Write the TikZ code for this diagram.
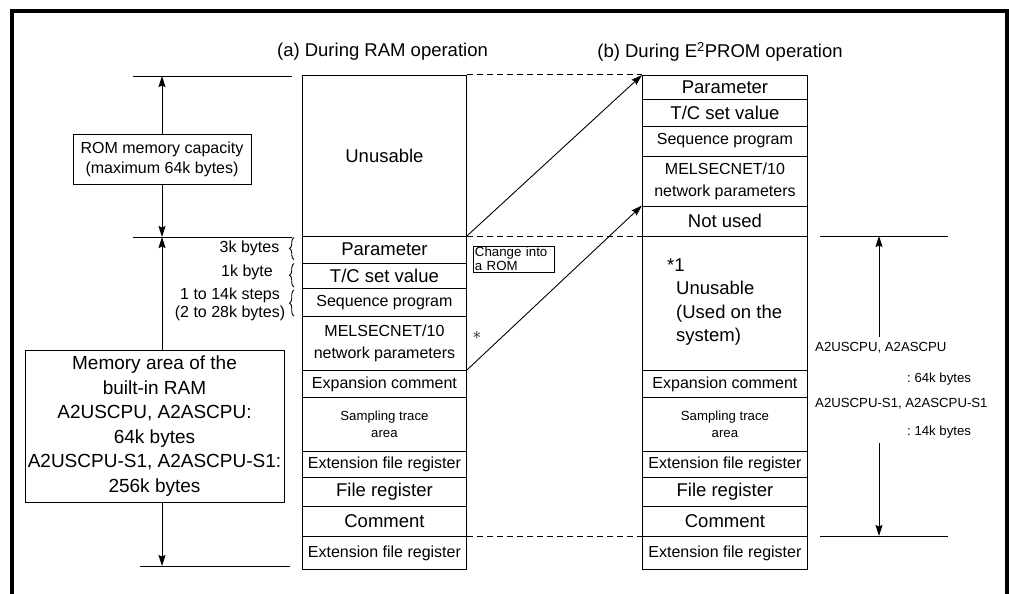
\documentclass[tikz,border=0pt]{standalone}
\usepackage{fontspec}
\setmainfont{Liberation Sans}
\usetikzlibrary{arrows.meta,decorations.pathreplacing}
\newcommand\szbig{\frenchspacing\fontsize{18.5}{22}\selectfont}
\newcommand\szmid{\frenchspacing\fontsize{16}{22}\selectfont}
\newcommand\szsml{\frenchspacing\fontsize{13.2}{17}\selectfont}
\newcommand\szmem{\frenchspacing\fontsize{19}{24.5}\selectfont}
\newcommand\szrom{\frenchspacing\fontsize{16}{20}\selectfont}
\begin{document}
\begin{tikzpicture}[x=1pt,y=-1pt,
  cell/.style={draw, line width=0.9pt, inner sep=0pt, anchor=north west, align=center},
  cl/.style={cell, minimum width=164pt},
  cr/.style={cell, minimum width=165pt},
  box/.style={draw, line width=0.9pt, align=center, inner sep=0pt},
  dimline/.style={line width=0.8pt},
  arr/.style={line width=0.9pt, -{Stealth[length=11pt,width=7pt,inset=1.5pt]}},
  dashline/.style={line width=1pt, dash pattern=on 6pt off 4pt},
  brc/.style={line width=0.9pt, decorate, decoration={brace, amplitude=4.5pt}}
]
\useasboundingbox (0,0) rectangle (1009,594);
\draw[line width=4pt, line join=miter] (12,600) -- (12,11.5) -- (1007,11.5) -- (1007,600);

% titles
\node[font=\szbig] (ta) at (382.5,52) {(a) During RAM operation};
\node[font=\szbig] (tb) at (720,52) {(b) During E\textsuperscript{2}PROM operation};

% left column
\node[cl, font=\szbig, minimum height=161pt] (lU) at (302,75) {Unusable};
\node[cl, font=\szbig, minimum height=26.5pt] (lP) at (302,236) {Parameter};
\node[cl, font=\szbig, minimum height=25.5pt] (lT) at (302,262.5) {T/C set value};
\node[cl, font=\szmid, minimum height=28pt] (lS) at (302,288) {Sequence program};
\node[cl, font=\szmid, minimum height=54pt] (lM) at (302,316) {MELSECNET/10\\network parameters};
\node[cl, font=\szmid, minimum height=27pt] (lE) at (302,370) {Expansion comment};
\node[cl, font=\szsml, minimum height=53.5pt] (lST) at (302,397) {Sampling trace\\area};
\node[cl, font=\szmid, minimum height=26pt] (lX) at (302,450.5) {Extension file register};
\node[cl, font=\szbig, minimum height=29pt] (lF) at (302,476.5) {File register};
\node[cl, font=\szbig, minimum height=30.5pt] (lC) at (302,505.5) {Comment};
\node[cl, font=\szmid, minimum height=33pt] (lX2) at (302,536) {Extension file register};

% right column
\node[cr, font=\szbig, minimum height=23.5pt] (rP) at (642,75) {Parameter};
\node[cr, font=\szbig, minimum height=27pt] (rT) at (642,98.5) {T/C set value};
\node[cr, font=\szmid, minimum height=30pt] (rS) at (642,125.5) {Sequence program};
\node[cr, font=\szmid, minimum height=50pt] (rM) at (642,155.5) {MELSECNET/10\\network parameters};
\node[cr, font=\szbig, minimum height=30.5pt] (rN) at (642,205.5) {Not used};
\node[cr, minimum height=134pt] (rU) at (642,236) {};
\node[align=left, anchor=west, inner sep=0pt, font=\frenchspacing\fontsize{18.5}{23.5}\selectfont] (rUt) at (667,302) {*1\\\hspace*{9pt}Unusable\\\hspace*{9pt}(Used on the\\\hspace*{9pt}system)};
\node[cr, font=\szmid, minimum height=27pt] (rE) at (642,370) {Expansion comment};
\node[cr, font=\szsml, minimum height=53.5pt] (rST) at (642,397) {Sampling trace\\area};
\node[cr, font=\szmid, minimum height=26pt] (rX) at (642,450.5) {Extension file register};
\node[cr, font=\szbig, minimum height=29pt] (rF) at (642,476.5) {File register};
\node[cr, font=\szbig, minimum height=30.5pt] (rC) at (642,505.5) {Comment};
\node[cr, font=\szmid, minimum height=33pt] (rX2) at (642,536) {Extension file register};

% dashed connectors
\draw[dashline] (lU.north east) -- (rP.north west);
\draw[dashline] (lP.north east) -- (rU.north west);
\draw[dashline] (lX2.north east) -- (rX2.north west);

% arrows
\draw[arr] (lP.north east) -- (rP.north west);
\draw[arr] (lE.north east) -- (rN.north west);

\node[draw, line width=0.8pt, anchor=north west, align=left, inner xsep=1.5pt, inner ysep=0pt, minimum width=81pt, minimum height=26pt, text width=77pt, font=\frenchspacing\fontsize{13.3}{14.5}\selectfont] (rom) at (472.5,245.5) {Change into\\a ROM};
\node[font=\fontsize{18}{20}\selectfont, inner sep=0pt] (star) at (477,335) {$\ast$};

% left dimension
\coordinate (v1) at (162,76);
\coordinate (v2) at (162,237);
\coordinate (v3) at (162,566);
\draw[dimline] (133,76) -- (292,76);
\draw[dimline] (133,237) -- (292,237);
\draw[dimline] (140,566) -- (290,566);
\node[box, font=\szrom, minimum width=178pt, minimum height=50pt] (rombox) at (162,159) {ROM memory capacity\\(maximum 64k bytes)};
\node[box, font=\szmem, minimum width=259pt, minimum height=152pt] (mem) at (154.5,426) {Memory area of the\\built-in RAM\\A2USCPU, A2ASCPU:\\64k bytes\\A2USCPU-S1, A2ASCPU-S1:\\256k bytes};
\draw[arr] (rombox.north -| v1) -- (v1);
\draw[arr] (rombox.south -| v1) -- (v2);
\draw[arr] (mem.north -| v2) -- (v2);
\draw[arr] (mem.south -| v3) -- (v3);

% brace labels
\node[font=\szmid] (b1) at (249.5,248) {3k bytes};
\node[anchor=west, inner sep=0pt, font=\szmid] (b2) at (221,272) {1k byte};
\node[align=center, inner sep=0pt, font=\frenchspacing\fontsize{16}{18}\selectfont] (b3) at (230,304) {1 to 14k steps\\(2 to 28k bytes)};
\draw[brc] (294,259.5) -- (294,237.5);
\draw[brc] (294,287) -- (294,263.5);
\draw[brc] (294,316) -- (294,290);

% right dimension
\coordinate (w1) at (879,236);
\coordinate (w2) at (879,536);
\draw[dimline] (820,236) -- (948,236);
\draw[dimline] (820,536) -- (948,536);
\coordinate (w1s) at (879,337);
\coordinate (w2s) at (879,443);
\draw[arr] (w1s) -- (w1);
\draw[arr] (w2s) -- (w2);
\node[anchor=west, inner sep=0pt, font=\szsml] (t1) at (815,348) {A2USCPU, A2ASCPU};
\node[anchor=west, inner sep=0pt, font=\szsml] (t2) at (907,379) {: 64k bytes};
\node[anchor=west, inner sep=0pt, font=\szsml] (t3) at (815,404) {A2USCPU-S1, A2ASCPU-S1};
\node[anchor=west, inner sep=0pt, font=\szsml] (t4) at (907,432) {: 14k bytes};
\end{tikzpicture}
\end{document}
